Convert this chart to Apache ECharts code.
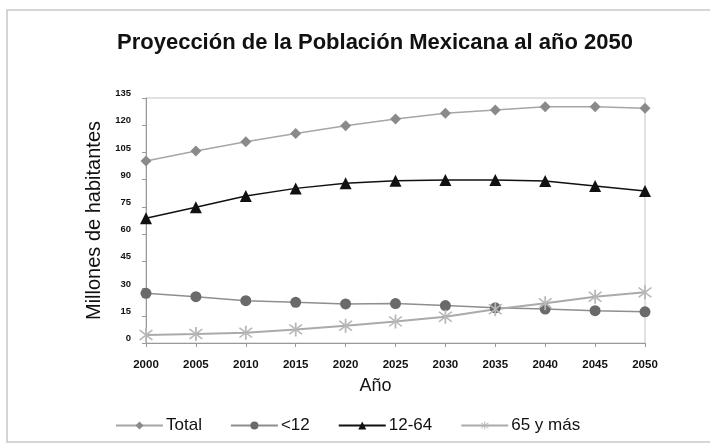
<!DOCTYPE html>
<html><head><meta charset="utf-8">
<script src="https://cdn.jsdelivr.net/npm/echarts@6/dist/echarts.min.js"></script>
<style>html,body{margin:0;padding:0;background:#fff}#c{width:710px;height:445px}</style>
</head><body><div id="c"></div>
<script>
const years = ['2000','2005','2010','2015','2020','2025','2030','2035','2040','2045','2050'];
const total = [100.3,105.8,110.9,115.5,119.7,123.4,126.6,128.4,130.2,130.2,129.3];
const menores12 = [27.4,25.5,23.3,22.4,21.5,21.7,20.6,19.4,18.7,17.8,17.2];
const de12a64 = [68.7,74.8,81.0,85.2,88.0,89.4,89.8,89.8,89.3,86.5,83.7];
const mayores65 = [4.4,5.0,5.7,7.5,9.5,11.9,14.5,18.6,21.9,25.5,27.9];
const yTicks = {min:0, max:135, interval:15};

const asterisk = 'path://M-1,-10 L1,-10 L1,10 L-1,10 Z M-7.8,-6.4 L-6.4,-7.8 L7.8,6.4 L6.4,7.8 Z M6.4,-7.8 L7.8,-6.4 L-6.4,7.8 L-7.8,6.4 Z';

const chart = echarts.init(document.getElementById('c'));
const font = 'Liberation Sans, Arial, sans-serif';
chart.setOption({
  animation:false,
  backgroundColor:'#fff',
  graphic:[{type:'rect',shape:{x:7,y:10,width:720,height:432},style:{fill:'none',stroke:'#c8c8c8',lineWidth:1.5},silent:true}],
  title:{text:'Proyección de la Población Mexicana al año 2050',left:112,top:27,
    textStyle:{fontFamily:font,fontWeight:'bold',fontSize:22,color:'#111'}},
  grid:{left:146,right:65,top:98,bottom:102,show:true,borderColor:'#c4c4c4',borderWidth:1},
  legend:{bottom:6,left:110,itemWidth:47,itemHeight:10,itemGap:28,
    textStyle:{fontFamily:font,fontSize:17,color:'#111',padding:[0,0,0,-2]},
    data:['Total','<12','12-64','65 y más']},
  xAxis:{type:'category',data:years,boundaryGap:false,
    name:'Año',nameLocation:'middle',nameGap:34,
    nameTextStyle:{fontFamily:font,fontSize:18,color:'#111',padding:[0,40,0,0]},
    axisLine:{lineStyle:{color:'#999',width:1}},
    axisTick:{show:true,alignWithLabel:true,length:4,lineStyle:{color:'#999'}},
    axisLabel:{fontFamily:font,fontWeight:'bold',fontSize:11.5,color:'#111',margin:16},
    splitLine:{show:false}},
  yAxis:{type:'value',min:yTicks.min,max:yTicks.max,interval:yTicks.interval,
    name:'Millones de habitantes',nameLocation:'middle',nameGap:41,
    nameTextStyle:{fontFamily:font,fontSize:20,color:'#111'},
    axisLine:{show:true,lineStyle:{color:'#999',width:1}},
    axisTick:{show:true,length:4,lineStyle:{color:'#999'}},
    axisLabel:{fontFamily:font,fontWeight:'bold',fontSize:9.5,color:'#111',margin:15,verticalAlign:'bottom',lineHeight:9},
    splitLine:{show:false}},
  series:[
    {name:'Total',type:'line',data:total,symbol:'diamond',symbolSize:11,
      lineStyle:{color:'#a6a6a6',width:1.5},itemStyle:{color:'#8a8a8a'}},
    {name:'<12',type:'line',data:menores12,symbol:'circle',symbolSize:11,
      lineStyle:{color:'#8e8e8e',width:1.5},itemStyle:{color:'#6a6a6a'}},
    {name:'12-64',type:'line',data:de12a64,symbol:'triangle',symbolSize:12,
      lineStyle:{color:'#111',width:1.5},itemStyle:{color:'#111'}},
    {name:'65 y más',type:'line',data:mayores65,symbol:asterisk,symbolSize:14,
      lineStyle:{color:'#aaaaaa',width:2},itemStyle:{color:'#b8b8b8'}}
  ]
});
</script></body></html>
